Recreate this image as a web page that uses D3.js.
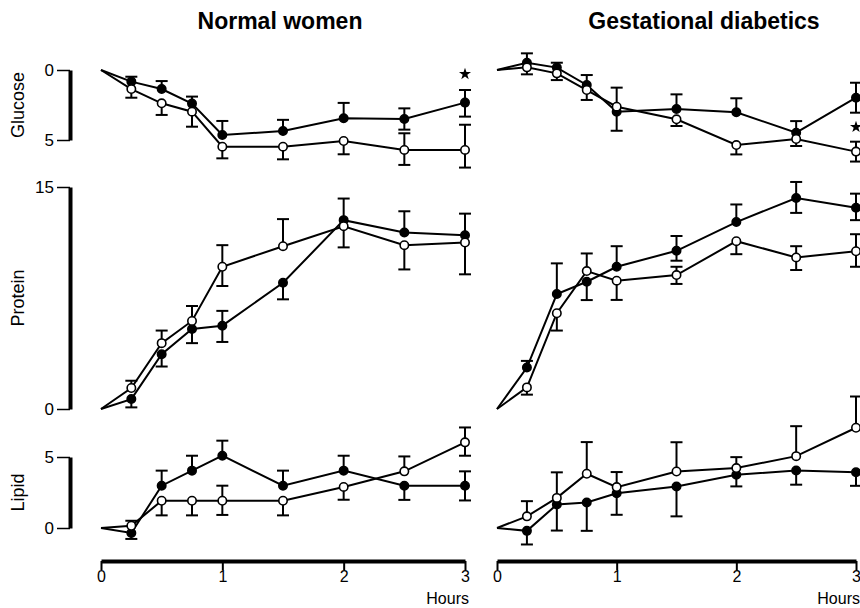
<!DOCTYPE html>
<html>
<head>
<meta charset="utf-8">
<script src="https://cdn.jsdelivr.net/npm/d3@7"></script>
<style>
  body { margin: 0; background: #fff; }
  svg { font-family: "Liberation Sans", Arial, sans-serif; }
</style>
</head>
<body>
<div id="chart"></div>
<script>
// Time points (hours)
const hours = [0, 0.25, 0.5, 0.75, 1, 1.5, 2, 2.5, 3];
const xTicks = [0, 1, 2, 3];

// Glucose - normal women
const gluNormFilled = [0, 0.83, 1.36, 2.4, 4.64, 4.36, 3.45, 3.5, 2.33];
const gluNormFilledHi = [0, 0, 0, 0, 0, 0, 0, 0.76, 1.0];
const gluNormFilledLo = [0, 0.35, 0.57, 0.5, 1.0, 0.8, 1.1, 0.76, 0.9];
const gluNormOpen = [0, 1.36, 2.38, 2.98, 5.48, 5.48, 5.07, 5.71, 5.71];
const gluNormOpenHi = [0, 0.62, 0.83, 1.07, 0.83, 0.9, 0.95, 1.07, 1.26];
const gluNormOpenLo = [0, 0, 0, 0, 0, 0, 0, 1.19, 1.8];

// Glucose - gestational diabetics
const gluDiabFilled = [0, -0.52, -0.17, 1.07, 2.98, 2.79, 3.02, 4.48, 1.98];
const gluDiabFilledHi = [0, 0, 0, 0, 1.36, 0, 0, 0, 1.07];
const gluDiabFilledLo = [0, 0.67, 0.35, 0.71, 0, 1.05, 1.0, 0.83, 1.07];
const gluDiabOpen = [0, -0.19, 0.24, 1.43, 2.62, 3.52, 5.36, 4.93, 5.83];
const gluDiabOpenHi = [0, 0.5, 0.48, 0.71, 0, 0.48, 0.67, 0.5, 0.71];
const gluDiabOpenLo = [0, 0, 0, 0, 1.36, 0, 0, 0, 0.71];

// Protein - normal women
const proNormFilled = [0, 0.67, 3.7, 5.41, 5.63, 8.53, 12.76, 11.93, 11.74];
const proNormFilledHi = [0, 0, 0, 0, 1.0, 0, 1.46, 1.43, 1.46];
const proNormFilledLo = [0, 0.56, 0.83, 0.96, 1.1, 1.12, 0, 0, 0];
const proNormOpen = [0, 1.42, 4.45, 5.95, 9.61, 11.0, 12.35, 11.07, 11.25];
const proNormOpenHi = [0, 0.49, 0.85, 1.01, 1.46, 1.83, 0, 0, 0];
const proNormOpenLo = [0, 0, 0, 0, 1.3, 0, 1.43, 1.64, 2.15];

// Protein - gestational diabetics
const proDiabFilled = [0, 2.8, 7.77, 8.6, 9.61, 10.69, 12.63, 14.26, 13.6];
const proDiabFilledHi = [0, 0.45, 2.07, 0, 1.39, 1.0, 1.19, 1.08, 0.95];
const proDiabFilledLo = [0, 0, 0, 1.24, 0, 0.67, 0, 1.01, 0.84];
const proDiabOpen = [0, 1.46, 6.47, 9.32, 8.67, 9.05, 11.34, 10.24, 10.66];
const proDiabOpenHi = [0, 0, 0, 1.19, 0, 0.56, 0, 0.76, 1.15];
const proDiabOpenLo = [0, 0.49, 1.17, 0, 1.3, 0.6, 0.88, 0.85, 1.05];

// Lipid - normal women
const lipNormFilled = [0, -0.35, 2.98, 4.04, 5.09, 2.98, 4.04, 2.98, 2.98];
const lipNormFilledHi = [0, 0, 1.06, 1.05, 1.06, 1.06, 1.05, 0, 1.01];
const lipNormFilledLo = [0, 0.42, 0, 0, 0, 0, 0, 1.0, 1.04];
const lipNormOpen = [0, 0.16, 1.92, 1.92, 1.92, 1.92, 2.89, 3.99, 6.03];
const lipNormOpenHi = [0, 0.35, 0, 0, 1.06, 0, 0, 1.05, 1.05];
const lipNormOpenLo = [0, 0, 1.03, 1.03, 1.0, 1.03, 0.9, 0, 0.94];

// Lipid - gestational diabetics
const lipDiabFilled = [0, -0.2, 1.65, 1.8, 2.45, 2.92, 3.75, 4.05, 3.93];
const lipDiabFilledHi = [0, 0, 0, 0, 0, 0, 0, 0, 0];
const lipDiabFilledLo = [0, 0.96, 1.83, 2.0, 1.52, 2.1, 0.82, 1.0, 0.96];
const lipDiabOpen = [0, 0.82, 2.12, 3.82, 2.88, 3.98, 4.22, 5.06, 7.06];
const lipDiabOpenHi = [0, 1.07, 1.8, 2.23, 1.06, 2.06, 0.77, 2.11, 2.2];
const lipDiabOpenLo = [0, 0, 0, 0, 0, 0, 0, 0, 0];

// Significance stars (glucose, at 3 h)
const starHours = [3, 3];
const starValues = [0.29, 4.07];
const starPanel = [0, 1];

const columnTitles = ["Normal women", "Gestational diabetics"];
const rowTitles = ["Glucose", "Protein", "Lipid"];

const svg = d3.select('#chart').append('svg')
  .attr('width', 860)
  .attr('height', 608);

// x scales, one per column
const xScales = [
  d3.scaleLinear().domain([0, 3]).range([101, 465]),
  d3.scaleLinear().domain([0, 3]).range([497, 856])
];
const titleX = [280, 704];

// y scales, one per row (glucose is drawn with 0 at the top)
const yScales = [
  d3.scaleLinear().domain([0, 5]).range([70, 140]),
  d3.scaleLinear().domain([0, 15]).range([409, 187]),
  d3.scaleLinear().domain([0, 5]).range([528, 457])
];
const yTicks = [[0, 5], [0, 15], [0, 5]];

const panels = [
  [[gluNormFilled, gluNormFilledHi, gluNormFilledLo, gluNormOpen, gluNormOpenHi, gluNormOpenLo],
   [gluDiabFilled, gluDiabFilledHi, gluDiabFilledLo, gluDiabOpen, gluDiabOpenHi, gluDiabOpenLo]],
  [[proNormFilled, proNormFilledHi, proNormFilledLo, proNormOpen, proNormOpenHi, proNormOpenLo],
   [proDiabFilled, proDiabFilledHi, proDiabFilledLo, proDiabOpen, proDiabOpenHi, proDiabOpenLo]],
  [[lipNormFilled, lipNormFilledHi, lipNormFilledLo, lipNormOpen, lipNormOpenHi, lipNormOpenLo],
   [lipDiabFilled, lipDiabFilledHi, lipDiabFilledLo, lipDiabOpen, lipDiabOpenHi, lipDiabOpenLo]]
];

// Column titles
columnTitles.forEach((t, i) => {
  svg.append('text')
    .attr('x', titleX[i])
    .attr('y', 29)
    .attr('text-anchor', 'middle')
    .style('font-size', '23px')
    .style('font-weight', 'bold')
    .text(t);
});

// Y axes (left only)
yScales.forEach((ys, r) => {
  const g = svg.append('g')
    .attr('transform', 'translate(70,0)')
    .call(d3.axisLeft(ys).tickValues(yTicks[r]).tickFormat(d3.format('d'))
      .tickSize(13).tickSizeOuter(0).tickPadding(3));
  g.select('.domain').attr('stroke', '#000').attr('stroke-width', 4);
  g.selectAll('.tick line').attr('stroke', '#000').attr('stroke-width', 1.5);
  g.selectAll('.tick text')
    .attr('fill', '#000')
    .style('font-size', '17px')
    .style('font-family', '"Liberation Sans", Arial, sans-serif');

  const mid = (ys.range()[0] + ys.range()[1]) / 2;
  svg.append('text')
    .attr('transform', 'translate(24,' + mid + ') rotate(-90)')
    .attr('text-anchor', 'middle')
    .style('font-size', '18px')
    .text(rowTitles[r]);
});

// X axes
xScales.forEach((xs) => {
  const g = svg.append('g')
    .attr('transform', 'translate(0,561)')
    .call(d3.axisBottom(xs).tickValues(xTicks).tickFormat(d3.format('d'))
      .tickSize(9).tickSizeOuter(0).tickPadding(1));
  g.select('.domain').attr('stroke', '#000').attr('stroke-width', 4);
  g.selectAll('.tick line').attr('stroke', '#000').attr('stroke-width', 2);
  g.selectAll('.tick text')
    .attr('fill', '#000')
    .style('font-size', '16px')
    .style('font-family', '"Liberation Sans", Arial, sans-serif');

  svg.append('text')
    .attr('x', xs(3) + 4)
    .attr('y', 604)
    .attr('text-anchor', 'end')
    .style('font-size', '16px')
    .text('Hours');
});

// Panels
panels.forEach((row, r) => {
  const ys = yScales[r];
  row.forEach((p, c) => {
    const xs = xScales[c];
    const series = [
      {vals: p[0], hi: p[1], lo: p[2], filled: true},
      {vals: p[3], hi: p[4], lo: p[5], filled: false}
    ];
    const line = d3.line()
      .x((d, i) => xs(hours[i]))
      .y(d => ys(d));

    const g = svg.append('g');

    series.forEach(s => {
      g.append('path')
        .attr('d', line(s.vals))
        .attr('fill', 'none')
        .attr('stroke', '#000')
        .attr('stroke-width', 2);
    });

    // error bars
    series.forEach(s => {
      s.vals.forEach((v, i) => {
        const x = xs(hours[i]);
        [[s.hi[i], 1], [s.lo[i], -1]].forEach(([e, sign]) => {
          if (!e) return;
          const yEnd = ys(v + sign * e);
          g.append('line')
            .attr('x1', x).attr('x2', x)
            .attr('y1', ys(v)).attr('y2', yEnd)
            .attr('stroke', '#000').attr('stroke-width', 2);
          g.append('line')
            .attr('x1', x - 6).attr('x2', x + 6)
            .attr('y1', yEnd).attr('y2', yEnd)
            .attr('stroke', '#000').attr('stroke-width', 2);
        });
      });
    });

    // markers (skip the t = 0 origin)
    series.forEach(s => {
      g.selectAll(null)
        .data(s.vals.slice(1))
        .enter().append('circle')
        .attr('cx', (d, i) => xs(hours[i + 1]))
        .attr('cy', d => ys(d))
        .attr('r', 4.2)
        .attr('fill', s.filled ? '#000' : '#fff')
        .attr('stroke', '#000')
        .attr('stroke-width', 1.6);
    });
  });
});

// Stars
starHours.forEach((h, i) => {
  const xs = xScales[starPanel[i]];
  svg.append('path')
    .attr('d', d3.symbol().type(d3.symbolStar).size(45)())
    .attr('transform', 'translate(' + xs(h) + ',' + yScales[0](starValues[i]) + ')')
    .attr('fill', '#000');
});
</script>
</body>
</html>
